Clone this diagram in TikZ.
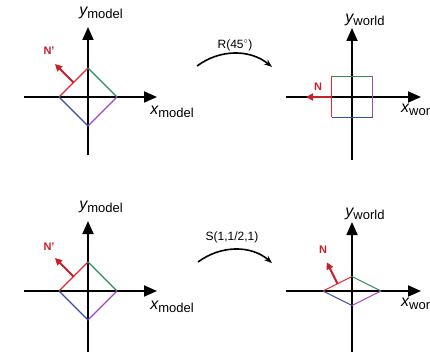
\documentclass[tikz,border=0pt]{standalone}
\usepackage{fontspec}
\setmainfont{Liberation Sans}
\definecolor{edgered}{HTML}{E8262E}
\definecolor{normred}{HTML}{C8202A}
\definecolor{edgegreen}{HTML}{2E8B57}
\definecolor{edgeblue}{HTML}{3B4BAA}
\definecolor{edgepurple}{HTML}{A646C4}
\usetikzlibrary{positioning,arrows.meta,calc}
\newcommand{\axname}[2]{{\fontsize{16}{16}\selectfont\itshape #1}\raisebox{-0.3em}{\fontsize{13}{13}\selectfont #2}}

\begin{document}
\begin{tikzpicture}[
  x=1pt, y=1pt,
  axis/.style={line width=1.8pt, -{Triangle[length=13pt,width=11pt]}},
  edge/.style={line width=1.1pt},
  normal/.style={normred, line width=2pt, -{Triangle[length=7pt,width=7pt]}},
  normlabel/.style={text=normred, font=\fontsize{11}{11}\selectfont\bfseries, inner sep=0pt},
  axlabel/.style={inner sep=0pt},
  xform/.style={line width=1.6pt, -{Stealth[length=8pt,width=6pt]}},
  xformlabel/.style={font=\fontsize{12}{12}\selectfont, inner sep=0pt}
]
\useasboundingbox (0,0) rectangle (430,351);
\clip (0,0) rectangle (430,351);

% origins of the four frames
\coordinate (mtop) at (88,254);
\coordinate (wtop) at (352,254);
\coordinate (mbot) at (88,60);
\coordinate (wbot) at (352,60);

% model frame, top
\begin{scope}[shift={(mtop)}]
  \draw[axis] (-64,0) -- (69,0);
  \draw[axis] (0,-58) -- (0,70);
  \draw[edge, edgered]    (-29,0) -- (0,29);
  \draw[edge, edgegreen]  (0,29) -- (29,0);
  \draw[edge, edgepurple] (29,0) -- (0,-29);
  \draw[edge, edgeblue]   (0,-29) -- (-29,0);
  \coordinate (nbase1) at (-14.5,14.5);
  \coordinate (ntip1) at (-33,33);
  \draw[normal] (nbase1) -- (ntip1);
  \node[normlabel] (nlab1) at (-39,46) {N'};
  \node[axlabel] (ylab1) at (13,84) {\axname{y}{model}};
  \node[axlabel] (xlab1) at (84,-15) {\axname{x}{model}};
\end{scope}

% world frame, top
\begin{scope}[shift={(wtop)}]
  \draw[axis] (-66,0) -- (69,0);
  \draw[axis] (0,-63) -- (0,69);
  \draw[edge, edgered]    (-20.5,-20.5) -- (-20.5,20.5);
  \draw[edge, edgegreen]  (-20.5,20.5) -- (20.5,20.5);
  \draw[edge, edgepurple] (20.5,20.5) -- (20.5,-20.5);
  \draw[edge, edgeblue]   (20.5,-20.5) -- (-20.5,-20.5);
  \coordinate (nbase2) at (-20.5,0);
  \coordinate (ntip2) at (-46,0);
  \draw[normal] (nbase2) -- (ntip2);
  \node[normlabel] (nlab2) at (-34,10) {N};
  \node[axlabel] (ylab2) at (13,77) {\axname{y}{world}};
  \node[axlabel, anchor=west] (xlab2) at (49,-13) {\axname{x}{world}};
\end{scope}

% model frame, bottom
\begin{scope}[shift={(mbot)}]
  \draw[axis] (-64,0) -- (69,0);
  \draw[axis] (0,-64) -- (0,70);
  \draw[edge, edgered]    (-29,0) -- (0,29);
  \draw[edge, edgegreen]  (0,29) -- (29,0);
  \draw[edge, edgepurple] (29,0) -- (0,-29);
  \draw[edge, edgeblue]   (0,-29) -- (-29,0);
  \coordinate (nbase3) at (-14.5,14.5);
  \coordinate (ntip3) at (-33,33);
  \draw[normal] (nbase3) -- (ntip3);
  \node[normlabel] (nlab3) at (-39,44) {N'};
  \node[axlabel] (ylab3) at (13,84) {\axname{y}{model}};
  \node[axlabel] (xlab3) at (84,-16) {\axname{x}{model}};
\end{scope}

% world frame, bottom
\begin{scope}[shift={(wbot)}]
  \draw[axis] (-66,0) -- (69,0);
  \draw[axis] (0,-64) -- (0,69);
  \draw[edge, edgered]    (-29,0) -- (0,14.5);
  \draw[edge, edgegreen]  (0,14.5) -- (29,0);
  \draw[edge, edgepurple] (29,0) -- (0,-14.5);
  \draw[edge, edgeblue]   (0,-14.5) -- (-29,0);
  \coordinate (nbase4) at (-14.5,7.25);
  \coordinate (ntip4) at (-25.2,28.7);
  \draw[normal] (nbase4) -- (ntip4);
  \node[normlabel] (nlab4) at (-29,41) {N};
  \node[axlabel] (ylab4) at (13,77) {\axname{y}{world}};
  \node[axlabel, anchor=west] (xlab4) at (49,-13) {\axname{x}{world}};
\end{scope}

% transforms
\coordinate (rfrom) at (197,285);
\coordinate (rto) at (272,284);
\draw[xform] (rfrom) .. controls (220,302) and (250,302) .. (rto);
\node[xformlabel] (rlab) at (235,306) {R(45$^{\circ}$)};

\coordinate (sfrom) at (198,89);
\coordinate (sto) at (272,88);
\draw[xform] (sfrom) .. controls (221,106) and (251,106) .. (sto);
\node[xformlabel] (slab) at (232,114) {S(1,1/2,1)};

\end{tikzpicture}
\end{document}
